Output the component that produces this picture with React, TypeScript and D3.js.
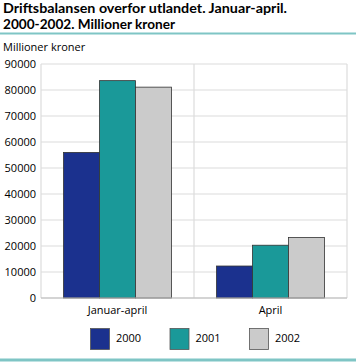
import React from "react";
import * as d3 from "d3";

const categories = ["Januar-april", "April"];
const years = ["2000", "2001", "2002"];
const values2000 = [56000, 12300];
const values2001 = [83600, 20300];
const values2002 = [81100, 23300];
const yTicks = [0, 10000, 20000, 30000, 40000, 50000, 60000, 70000, 80000, 90000];
const colors = ["#1b318e", "#1a9999", "#cbcbcb"];

const W = 356, H = 362;
const left = 41, right = 347, top = 64, bottom = 298;
const font = "'Open Sans', 'DejaVu Sans', sans-serif";
const titleFont = "Lato, 'Open Sans', sans-serif";

export default function App() {
  const series = [values2000, values2001, values2002];
  const x0 = d3.scaleBand().domain(categories).range([left, right]).paddingInner(0).paddingOuter(0);
  const x1 = d3.scaleBand().domain(years).range([0, x0.bandwidth()]).paddingOuter(0.625).paddingInner(0);
  const y = d3.scaleLinear().domain([0, 90000]).range([bottom, top]);

  return (
    <svg width={W} height={H} style={{ position: "absolute", left: 0, top: 0 }}>
      <rect width={W} height={H} fill="#fff" />
      <text fontFamily={titleFont} fontWeight="bold" fontSize={13.5} fill="#000">
        <tspan x={3} y={12.5} textLength={284} lengthAdjust="spacingAndGlyphs">Driftsbalansen overfor utlandet. Januar-april.</tspan>
        <tspan x={3} y={28.5} textLength={172} lengthAdjust="spacingAndGlyphs">2000-2002. Millioner kroner</tspan>
      </text>
      <line x1={0} x2={W} y1={33.5} y2={33.5} stroke="#7fc5c5" strokeWidth={2} />
      <text x={3} y={51} fontFamily={font} fontSize={11} fill="#000">Millioner kroner</text>
      {yTicks.map((t) => (
        <g key={t}>
          <line x1={left} x2={right} y1={y(t)} y2={y(t)} stroke="#dcdcdc" strokeWidth={1.2} />
          <text x={36} y={y(t) + 4} textAnchor="end" fontFamily={font} fontSize={11} fill="#000">{t}</text>
        </g>
      ))}
      {categories.map((c) => (
        <line key={c} x1={x0(c)! + x0.bandwidth()} x2={x0(c)! + x0.bandwidth()} y1={top} y2={bottom} stroke="#dcdcdc" strokeWidth={1.2} />
      ))}
      <line x1={left} x2={left} y1={top} y2={bottom} stroke="#dcdcdc" strokeWidth={1.2} />
      {categories.map((c, ci) =>
        years.map((yr, si) => (
          <rect key={c + yr} x={x0(c)! + x1(yr)!} y={y(series[si][ci])} width={x1.bandwidth()} height={bottom - y(series[si][ci])}
            fill={colors[si]} stroke="#333" strokeWidth={0.8} />
        ))
      )}
      <line x1={left} x2={right} y1={bottom} y2={bottom} stroke="#bbb" strokeWidth={1} />
      {categories.map((c) => (
        <text key={c} x={x0(c)! + x0.bandwidth() / 2} y={314} textAnchor="middle" fontFamily={font} fontSize={11} fill="#000">{c}</text>
      ))}
      {years.map((yr, i) => (
        <g key={yr} transform={`translate(${90 + i * 79.5},328)`}>
          <rect x={0.5} y={0.5} width={19} height={21} fill={colors[i]} stroke="#555" strokeWidth={0.8} />
          <text x={26} y={14} fontFamily={font} fontSize={11} fill="#000">{yr}</text>
        </g>
      ))}
      <line x1={0} x2={W} y1={360} y2={360} stroke="#7fc5c5" strokeWidth={3} />
    </svg>
  );
}
